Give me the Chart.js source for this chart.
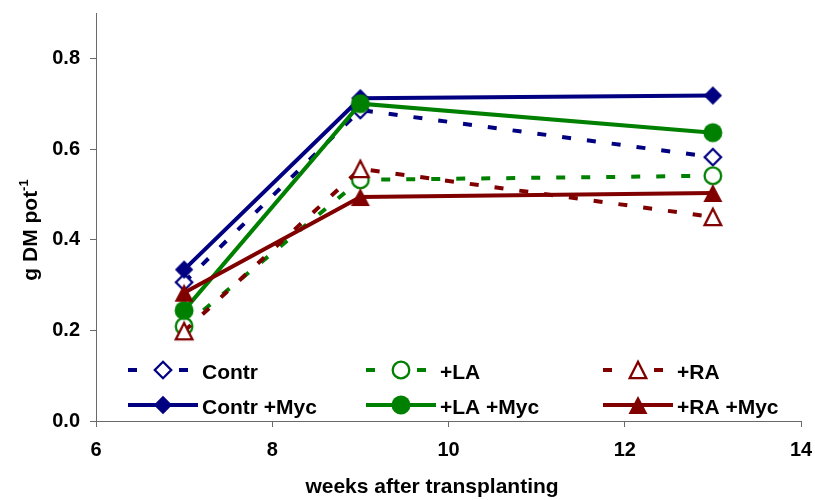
<!DOCTYPE html>
<html>
<head>
<meta charset="utf-8">
<script src="https://cdn.jsdelivr.net/npm/chart.js@4.4.1/dist/chart.umd.min.js"></script>
<style>
  html, body { margin: 0; padding: 0; background: #ffffff; }
  #wrap { width: 815px; height: 500px; position: relative; }
</style>
</head>
<body>
<div id="wrap"><canvas id="c" width="815" height="500"></canvas></div>
<script>
// Dry matter per pot over time, with and without mycorrhiza
const weeks = [7, 9, 13];
const contr    = [0.306, 0.686, 0.582];
const la       = [0.209, 0.532, 0.541];
const ra       = [0.198, 0.556, 0.450];
const contrMyc = [0.334, 0.712, 0.718];
const laMyc    = [0.244, 0.700, 0.636];
const raMyc    = [0.283, 0.494, 0.503];
const seriesNames = ['Contr', '+LA', '+RA', 'Contr +Myc', '+LA +Myc', '+RA +Myc'];
const xTicks = [6, 8, 10, 12, 14];
const yTicks = [0, 0.2, 0.4, 0.6, 0.8];
const xTitle = 'weeks after transplanting';
const yTitleMain = 'g DM pot';
const yTitleSup = '-1';

const FONT = '"Liberation Sans", Arial, Helvetica, sans-serif';
const NAVY = '#000080', GREEN = '#008000', MAROON = '#800000';

// Marker images, drawn centred on a small canvas
function makeMarker(shape, color, filled) {
  const s = 24, c = s / 2;
  const cv = document.createElement('canvas');
  cv.width = s; cv.height = s;
  const g = cv.getContext('2d');
  g.fillStyle = filled ? color : '#ffffff';
  g.strokeStyle = color;
  g.lineWidth = 2.3;
  g.beginPath();
  if (shape === 'diamond') {
    const r = filled ? 9.2 : 8.2;
    g.moveTo(c, c - r); g.lineTo(c + r, c); g.lineTo(c, c + r); g.lineTo(c - r, c);
    g.closePath();
  } else if (shape === 'circle') {
    const r = filled ? 9.5 : 8.3;
    g.arc(c, c, r, 0, Math.PI * 2);
  } else {
    const hw = filled ? 9.5 : 8.3, top = filled ? 9 : 8.2, bot = filled ? 9 : 8.2;
    g.moveTo(c, c - top); g.lineTo(c + hw, c + bot); g.lineTo(c - hw, c + bot);
    g.closePath();
  }
  g.fill();
  if (!filled) g.stroke();
  return cv;
}

const styles = [
  { values: contr,    color: NAVY,   shape: 'diamond',  filled: false, dashed: true },
  { values: la,       color: GREEN,  shape: 'circle',   filled: false, dashed: true },
  { values: ra,       color: MAROON, shape: 'triangle', filled: false, dashed: true },
  { values: contrMyc, color: NAVY,   shape: 'diamond',  filled: true,  dashed: false },
  { values: laMyc,    color: GREEN,  shape: 'circle',   filled: true,  dashed: false },
  { values: raMyc,    color: MAROON, shape: 'triangle', filled: true,  dashed: false }
];
styles.forEach(s => { s.marker = makeMarker(s.shape, s.color, s.filled); });

const datasets = styles.map((s, i) => ({
  label: seriesNames[i],
  data: weeks.map((w, k) => ({ x: w, y: s.values[k] })),
  showLine: true,
  borderColor: s.color,
  backgroundColor: s.color,
  borderWidth: 4,
  borderDash: s.dashed ? [9, 16] : [],
  pointStyle: s.marker,
  pointRadius: 9,
  pointHoverRadius: 9,
  tension: 0,
  order: styles.length - i
}));

// Legend, axis titles drawn onto the canvas
const decor = {
  id: 'decor',
  afterDraw(chart) {
    const ctx = chart.ctx;
    ctx.save();
    // legend: 2 rows x 3 columns
    const colX = [128, 366, 603];
    const rowY = [370, 405];
    const rowBase = [378.5, 413.5];
    styles.forEach((s, i) => {
      const cx = colX[i % 3], row = Math.floor(i / 3), y = rowY[row];
      ctx.strokeStyle = s.color;
      ctx.lineWidth = 4;
      ctx.setLineDash([]);
      ctx.beginPath();
      if (s.dashed) {
        ctx.moveTo(cx, y); ctx.lineTo(cx + 9, y);
        ctx.moveTo(cx + 51, y); ctx.lineTo(cx + 60, y);
      } else {
        ctx.moveTo(cx, y); ctx.lineTo(cx + 70, y);
      }
      ctx.stroke();
      ctx.drawImage(s.marker, cx + 35 - s.marker.width / 2, y - s.marker.height / 2);
      ctx.fillStyle = '#000';
      ctx.font = 'bold 21px ' + FONT;
      ctx.textAlign = 'left';
      ctx.textBaseline = 'alphabetic';
      ctx.fillText(seriesNames[i], cx + 74, rowBase[row]);
    });
    // x title
    ctx.fillStyle = '#000';
    ctx.font = 'bold 21px ' + FONT;
    ctx.textAlign = 'center';
    ctx.textBaseline = 'alphabetic';
    ctx.fillText(xTitle, 432, 493);
    // y title with superscript
    ctx.translate(37, 230);
    ctx.rotate(-Math.PI / 2);
    ctx.font = 'bold 21px ' + FONT;
    const w1 = ctx.measureText(yTitleMain).width;
    ctx.font = 'bold 13px ' + FONT;
    const w2 = ctx.measureText(yTitleSup).width;
    const start = -(w1 + w2) / 2;
    ctx.textAlign = 'left';
    ctx.font = 'bold 21px ' + FONT;
    ctx.fillText(yTitleMain, start, 0);
    ctx.font = 'bold 13px ' + FONT;
    ctx.fillText(yTitleSup, start + w1, -9.5);
    ctx.restore();
  }
};

const axisColor = '#6a6a6a';
const tickFont = { family: FONT, size: 20, weight: 'bold' };

function noOverhang(sc) {
  sc.paddingLeft = 0; sc.paddingRight = 0; sc.paddingTop = 0; sc.paddingBottom = 0;
}

new Chart(document.getElementById('c'), {
  type: 'scatter',
  data: { datasets },
  options: {
    responsive: false,
    animation: false,
    devicePixelRatio: 1,
    events: [],
    layout: { padding: { left: 0, right: 14, top: 13, bottom: 0 } },
    plugins: { legend: { display: false }, tooltip: { enabled: false } },
    scales: {
      x: {
        type: 'linear',
        min: 6, max: 14,
        afterBuildTicks: sc => { sc.ticks = xTicks.map(v => ({ value: v })); },
        afterFit: sc => { sc.height = 79; noOverhang(sc); },
        grid: { drawOnChartArea: false, drawTicks: true, tickLength: 6, color: axisColor, tickColor: axisColor },
        border: { color: axisColor, width: 1 },
        ticks: { font: tickFont, color: '#000', padding: 11, maxRotation: 0, callback: v => String(v) }
      },
      y: {
        type: 'linear',
        min: 0, max: 0.9,
        afterBuildTicks: sc => { sc.ticks = yTicks.map(v => ({ value: v })); },
        afterFit: sc => { sc.width = 96; noOverhang(sc); },
        grid: { drawOnChartArea: false, drawTicks: true, tickLength: 6, color: axisColor, tickColor: axisColor },
        border: { color: axisColor, width: 1 },
        ticks: { font: tickFont, color: '#000', padding: 10, callback: v => Number(v).toFixed(1) }
      }
    }
  },
  plugins: [decor]
});
</script>
</body>
</html>
